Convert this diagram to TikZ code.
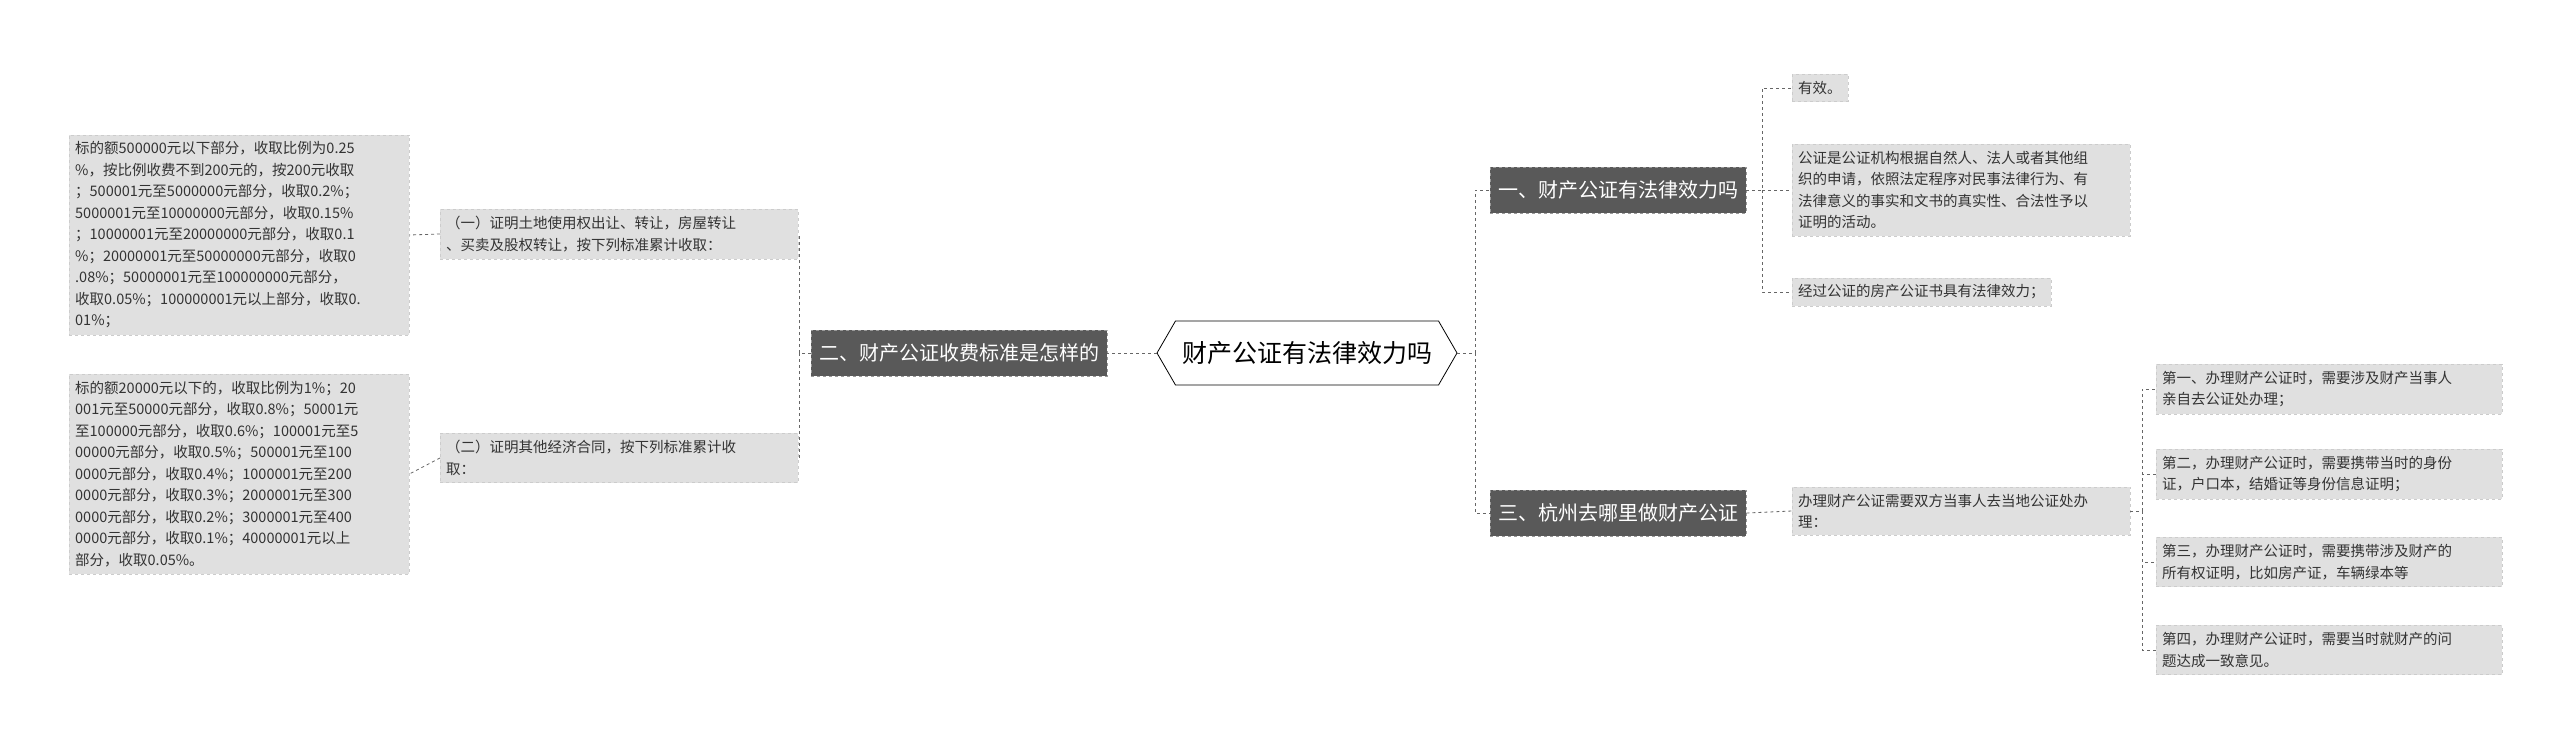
\documentclass[tikz,border=0pt]{standalone}
\usepackage{fontspec}
\setmainfont{Noto Sans CJK SC}
\usetikzlibrary{shapes.symbols}

\tikzset{
  topic/.style={draw=black!40,dashed,fill=black!65,text=white,font=\fontsize{20}{24}\selectfont,
                anchor=west,inner xsep=8pt,minimum height=46pt},
  leaf/.style={draw=black!20,dashed,fill=black!12,text=black!80,font=\fontsize{14.5}{21.5}\selectfont,
               anchor=west,align=left,inner xsep=6pt,inner ysep=7pt},
  link/.style={draw=black!60,dashed,thick}
}

\begin{document}
\begin{tikzpicture}[x=1pt,y=-1pt]
  \useasboundingbox (0,0) rectangle (2560,749);

% centre
  \node[draw,thick,fill=white,shape=signal,signal to=west and east,signal pointer angle=120,
        font=\fontsize{25}{30}\selectfont,minimum width=300pt,minimum height=64pt] (root) at (1307,353) {财产公证有法律效力吗};

% left branch
  \node[topic] (two) at (811,353) {二、财产公证收费标准是怎样的};
  \node[leaf,text width=346pt] (twoA) at (440,234) {（一）证明土地使用权出让、转让，房屋转让\\、买卖及股权转让，按下列标准累计收取：};
  \node[leaf,text width=346pt] (twoB) at (440,458) {（二）证明其他经济合同，按下列标准累计收\\取：};
  \node[leaf,text width=328pt] (feeA) at (69,235) {标的额500000元以下部分，收取比例为0.25\\\%，按比例收费不到200元的，按200元收取\\；500001元至5000000元部分，收取0.2\%；\\5000001元至10000000元部分，收取0.15\%\\；10000001元至20000000元部分，收取0.1\\\%；20000001元至50000000元部分，收取0\\.08\%；50000001元至100000000元部分，\\收取0.05\%；100000001元以上部分，收取0.\\01\%；};
  \node[leaf,text width=328pt] (feeB) at (69,474) {标的额20000元以下的，收取比例为1\%；20\\001元至50000元部分，收取0.8\%；50001元\\至100000元部分，收取0.6\%；100001元至5\\00000元部分，收取0.5\%；500001元至100\\0000元部分，收取0.4\%；1000001元至200\\0000元部分，收取0.3\%；2000001元至300\\0000元部分，收取0.2\%；3000001元至400\\0000元部分，收取0.1\%；40000001元以上\\部分，收取0.05\%。};

% right branch
  \node[topic] (one) at (1490,190) {一、财产公证有法律效力吗};
  \node[topic] (three) at (1490,513) {三、杭州去哪里做财产公证};
  \node[leaf] (oneA) at (1792,88) {有效。};
  \node[leaf,text width=326pt] (oneB) at (1792,190) {公证是公证机构根据自然人、法人或者其他组\\织的申请，依照法定程序对民事法律行为、有\\法律意义的事实和文书的真实性、合法性予以\\证明的活动。};
  \node[leaf] (oneC) at (1792,292) {经过公证的房产公证书具有法律效力；};
  \node[leaf,text width=326pt] (threeA) at (1792,511) {办理财产公证需要双方当事人去当地公证处办\\理：};
  \node[leaf,text width=334pt] (stepA) at (2156,389) {第一、办理财产公证时，需要涉及财产当事人\\亲自去公证处办理；};
  \node[leaf,text width=334pt] (stepB) at (2156,474) {第二，办理财产公证时，需要携带当时的身份\\证，户口本，结婚证等身份信息证明；};
  \node[leaf,text width=334pt] (stepC) at (2156,562) {第三，办理财产公证时，需要携带涉及财产的\\所有权证明，比如房产证，车辆绿本等};
  \node[leaf,text width=334pt] (stepD) at (2156,650) {第四，办理财产公证时，需要当时就财产的问\\题达成一致意见。};

% connectors
  \draw[link] (root.west) -- (two.east);
  \draw[link] (root.east) -- ++(18,0) coordinate (rs) |- (one.west);
  \draw[link] (rs) |- (three.west);
  \draw[link] (two.west) -- ++(-12,0) coordinate (ls) |- (twoA.east);
  \draw[link] (ls) |- (twoB.east);
  \draw[link] (twoA.west) -- (feeA.east);
  \draw[link] (twoB.west) -- (feeB.east);
  \draw[link] (one.east) -- ++(16,0) coordinate (os) |- (oneA.west);
  \draw[link] (os) |- (oneB.west);
  \draw[link] (os) |- (oneC.west);
  \draw[link] (three.east) -- (threeA.west);
  \draw[link] (threeA.east) -- ++(12,0) coordinate (ts) |- (stepA.west);
  \draw[link] (ts) |- (stepB.west);
  \draw[link] (ts) |- (stepC.west);
  \draw[link] (ts) |- (stepD.west);
\end{tikzpicture}
\end{document}
